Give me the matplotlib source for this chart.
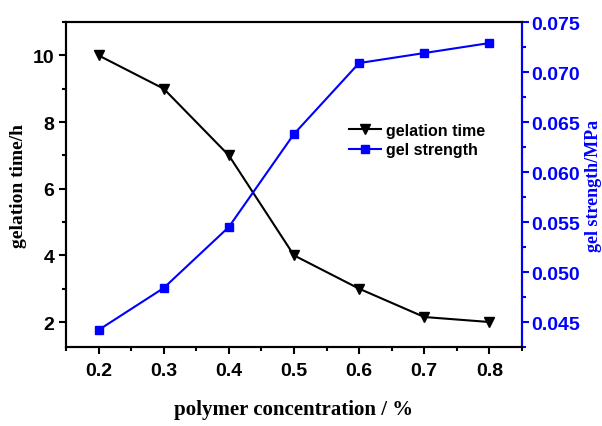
import matplotlib
matplotlib.use("Agg")
import matplotlib.pyplot as plt
from matplotlib.ticker import MultipleLocator, FormatStrFormatter
from matplotlib.font_manager import FontProperties

conc = [0.2, 0.3, 0.4, 0.5, 0.6, 0.7, 0.8]
gel_time = [10.0, 9.0, 7.0, 4.0, 3.0, 2.15, 2.0]
gel_strength = [0.0442, 0.0484, 0.0545, 0.0638, 0.0709, 0.0719, 0.0729]

blue = "#0000ff"
tick_font = {"family": "Liberation Sans", "weight": "bold", "size": 14}

fig = plt.figure(figsize=(6.02, 4.27), dpi=100)
ax = fig.add_axes([0.1096, 0.185, 0.7574, 0.761])
ax2 = ax.twinx()

l1, = ax.plot(conc, gel_time, color="black", lw=1.5, marker="v", ms=7, label="gelation time")
l2, = ax2.plot(conc, gel_strength, color=blue, lw=1.5, marker="s", ms=6, label="gel strength")

ax.set_xlim(0.15, 0.85)
ax.set_ylim(1.25, 11.0)
ax2.set_ylim(0.0425, 0.075)

ax.xaxis.set_major_locator(MultipleLocator(0.1))
ax.xaxis.set_minor_locator(MultipleLocator(0.05))
ax.yaxis.set_major_locator(MultipleLocator(2))
ax.yaxis.set_minor_locator(MultipleLocator(1))
ax2.yaxis.set_major_locator(MultipleLocator(0.005))
ax2.yaxis.set_minor_locator(MultipleLocator(0.0025))
ax.xaxis.set_major_formatter(FormatStrFormatter("%.1f"))
ax2.yaxis.set_major_formatter(FormatStrFormatter("%.3f"))

for a in (ax, ax2):
    for s in a.spines.values():
        s.set_linewidth(1.5)
ax.tick_params(which="major", direction="out", length=5, width=1.5)
ax.tick_params(axis="x", which="major", pad=6)
ax.tick_params(which="minor", direction="out", length=3, width=1.5)
ax2.tick_params(which="major", direction="out", length=5, width=1.5, colors=blue, pad=2)
ax2.tick_params(which="minor", direction="out", length=3, width=1.5, colors=blue)
ax2.spines["right"].set_color(blue)

for lab in ax.get_xticklabels() + ax.get_yticklabels():
    lab.set_fontproperties(FontProperties(**tick_font))
for lab in ax2.get_yticklabels():
    lab.set_fontproperties(FontProperties(**tick_font))
    lab.set_color(blue)

label_font = {"family": "Liberation Serif", "weight": "bold", "size": 15}
ax.set_xlabel("polymer concentration / %", fontdict=label_font, labelpad=14)
ax.set_ylabel("gelation time/h", fontdict={"family": "Liberation Serif", "weight": "bold", "size": 14})
ax.yaxis.set_label_coords(-0.085, 0.5)
ax2.set_ylabel("gel strength/MPa", fontdict={"family": "Liberation Serif", "weight": "bold", "size": 13},
               color=blue)
ax2.yaxis.set_label_coords(1.138, 0.5)

leg = ax.legend(handles=[l1, l2], loc="upper left", bbox_to_anchor=(0.59, 0.735),
                frameon=False, handlelength=2.0, handletextpad=0.3, labelspacing=0.3,
                prop={"family": "Liberation Sans", "weight": "bold", "size": 11.5})

fig.savefig("out.png", dpi=100)
